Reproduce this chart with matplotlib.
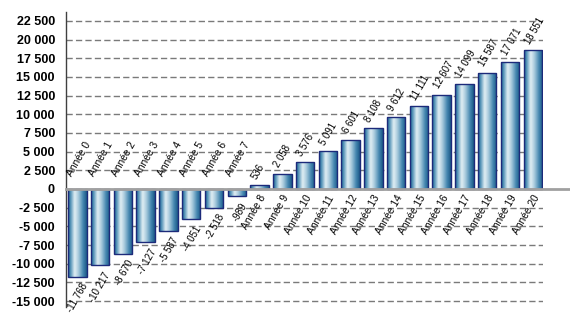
import matplotlib
matplotlib.use("Agg")
import matplotlib.pyplot as plt
import numpy as np
from matplotlib.colors import LinearSegmentedColormap

categories = [f"Année {i}" for i in range(21)]
values = [-11768, -10217, -8670, -7127, -5587, -4051, -2518, -989, 536, 2058,
          3576, 5091, 6601, 8108, 9612, 11111, 12607, 14099, 15587, 17071, 18551]
yticks = list(range(-15000, 22501, 2500))

def fmt(v):
    return f"{v:,}".replace(",", " ")

plt.rcParams['font.family'] = ['Liberation Sans', 'DejaVu Sans']

fig = plt.figure(figsize=(5.7, 3.14), dpi=100)
ax = fig.add_axes([0.1158, 0.0223, 0.9526 - 0.1158, 0.9618 - 0.0223])

x = np.arange(len(values))
bars = ax.bar(x, values, width=0.81, color='none', edgecolor='#1c2a7a', linewidth=1.0, zorder=3)

cmap = LinearSegmentedColormap.from_list('g', [
    (0.0, '#1d5f8e'), (0.12, '#4d8fb5'), (0.35, '#e2eff4'), (0.55, '#a9cbdd'),
    (0.8, '#4587b0'), (1.0, '#1a5886')])
grad = np.linspace(0, 1, 64).reshape(1, -1)
for b in bars:
    x0, y0 = b.get_x(), b.get_y()
    w, h = b.get_width(), b.get_height()
    im = ax.imshow(grad, cmap=cmap, aspect='auto',
                   extent=[x0, x0 + w, min(y0, y0 + h), max(y0, y0 + h)],
                   zorder=2.5, interpolation='bicubic')
    im.set_clip_path(b)

ax.set_xlim(-0.5, 20.45)
ax.set_ylim(-15800, 23700)
ax.set_yticks(yticks)
ax.set_yticklabels([fmt(t) for t in yticks], fontsize=9, fontweight='bold')
ax.tick_params(axis='y', length=0, pad=8)
ax.set_xticks([])
ax.yaxis.grid(True, linestyle=(0, (4.5, 2.3)), color='#7a7a7a', linewidth=1.0, zorder=0)
ax.set_axisbelow(True)
for s in ['top', 'right', 'bottom']:
    ax.spines[s].set_visible(False)
ax.spines['left'].set_color('#404040')
ax.spines['left'].set_linewidth(1.0)

ax.plot([0, 1.07], [0, 0], transform=ax.get_yaxis_transform(), color='#a0a0a0',
        linewidth=2, clip_on=False, zorder=4)

fs_cat = 7.3
fs_val = 6.9
for xi, v, c in zip(x, values, categories):
    if v < 0:
        ax.annotate(fmt(v), (xi, v), xytext=(5.7, -5.3), textcoords='offset points',
                    ha='right', va='center', rotation=60, rotation_mode='anchor', fontsize=fs_val)
        ax.annotate(c, (xi, 0), xytext=(-6, 10), textcoords='offset points',
                    ha='left', va='center', rotation=60, rotation_mode='anchor', fontsize=fs_cat)
    else:
        ax.annotate(fmt(v), (xi, v), xytext=(-4, 5), textcoords='offset points',
                    ha='left', va='center', rotation=60, rotation_mode='anchor', fontsize=fs_val)
        ax.annotate(c, (xi, 0), xytext=(3, -5), textcoords='offset points',
                    ha='right', va='center', rotation=60, rotation_mode='anchor', fontsize=fs_cat)

fig.savefig('out.png', dpi=100)
